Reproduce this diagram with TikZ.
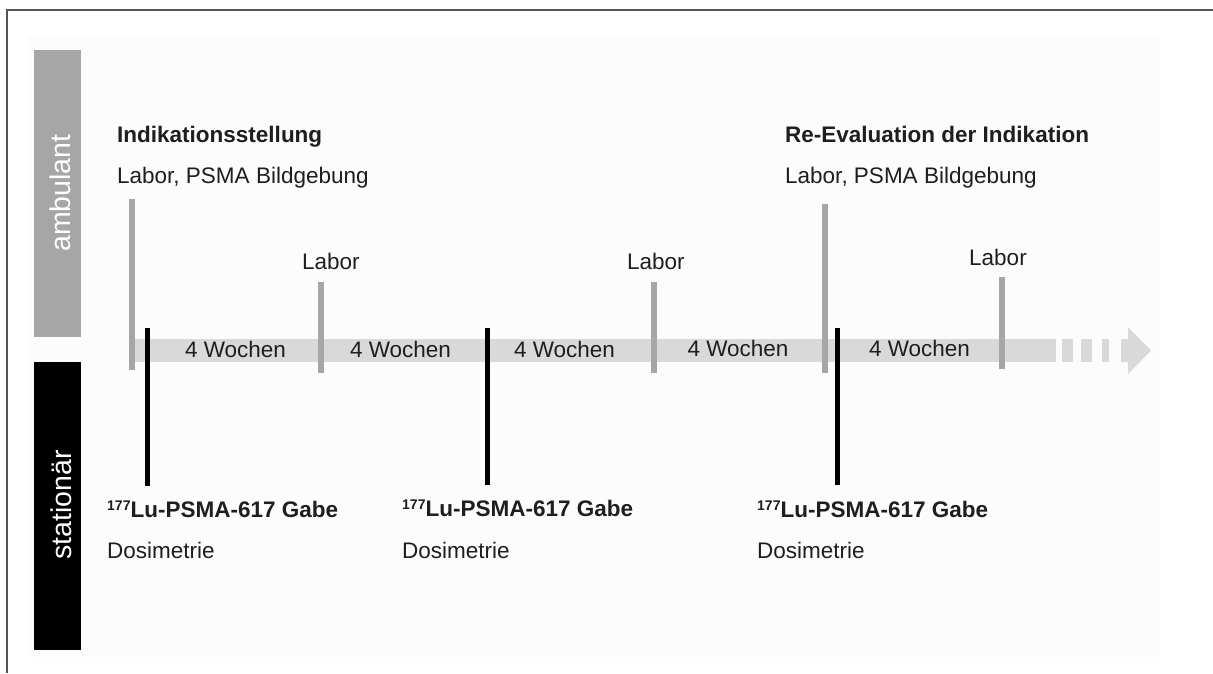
\documentclass[tikz,border=0pt]{standalone}
\usepackage{fontspec}
\setmainfont{Liberation Sans}
\definecolor{ambgray}{HTML}{A6A6A6}
\definecolor{bandgray}{HTML}{D9D9D9}
\definecolor{framegray}{HTML}{555555}
\definecolor{bggray}{HTML}{FCFCFC}
\definecolor{txt}{HTML}{1E1E1E}
\begin{document}
\begin{tikzpicture}[x=1pt,y=-1pt,
  lbl/.style={anchor=base west, inner sep=0pt, text=txt, font=\fontsize{22.5}{27}\selectfont},
  blbl/.style={anchor=base west, inner sep=0pt, text=txt, font=\fontsize{22.5}{27}\selectfont\bfseries},
  wk/.style={anchor=base, inner sep=0pt, text=txt, font=\fontsize{22.5}{27}\selectfont},
  side/.style={rotate=90, inner sep=0pt, text=white, font=\fontsize{28.5}{30}\selectfont},
  graytick/.style={draw=ambgray, line width=6pt},
  blacktick/.style={draw=black, line width=5pt},
  bandfill/.style={fill=bandgray}
]
\useasboundingbox (0,0) rectangle (1213,673);
\fill[white] (0,0) rectangle (1213,673);
\fill[bggray] (27,36) rectangle (1160,657);
\draw[framegray, line width=1.5pt] (7,673) -- (7,10) -- (1213,10);

% side bars
\fill[ambgray] (34,50) rectangle (81,337);
\fill[black] (34,362) rectangle (81,650);
\node[side] (amb) at (60,193) {ambulant};
\node[side] (stat) at (61,505) {stationär};

% time band
\fill[bandfill] (131,339) rectangle (1056,362);
\fill[bandfill] (1062,339) rectangle (1073,362);
\fill[bandfill] (1081,339) rectangle (1092,362);
\fill[bandfill] (1102,339) rectangle (1109,362);
\fill[bandfill] (1121,339) -- (1128,339) -- (1128,327) -- (1151,350.5) -- (1128,374) -- (1128,362) -- (1121,362) -- cycle;

% ticks
\coordinate (g1t) at (131.5,199); \coordinate (g1b) at (131.5,370);
\coordinate (g2t) at (321,282);   \coordinate (g2b) at (321,373);
\coordinate (g3t) at (654,282);   \coordinate (g3b) at (654,373);
\coordinate (g4t) at (825,204);   \coordinate (g4b) at (825,373);
\coordinate (g5t) at (1002,277);  \coordinate (g5b) at (1002,369);
\coordinate (k1t) at (147.5,328); \coordinate (k1b) at (147.5,486);
\coordinate (k2t) at (487,328);   \coordinate (k2b) at (487,485);
\coordinate (k3t) at (837,328);   \coordinate (k3b) at (837,485);
\draw[graytick] (g1t) -- (g1b);
\draw[graytick] (g2t) -- (g2b);
\draw[graytick] (g3t) -- (g3b);
\draw[graytick] (g4t) -- (g4b);
\draw[graytick] (g5t) -- (g5b);
\draw[blacktick] (k1t) -- (k1b);
\draw[blacktick] (k2t) -- (k2b);
\draw[blacktick] (k3t) -- (k3b);

% week labels
\node[wk] (w1) at (235.5,357) {4 Wochen};
\node[wk] (w2) at (400.5,357) {4 Wochen};
\node[wk] (w3) at (564.5,357) {4 Wochen};
\node[wk] (w4) at (738,356) {4 Wochen};
\node[wk] (w5) at (919.5,356) {4 Wochen};

% top labels
\node[blbl] (ind) at (117,142) {Indikationsstellung};
\node[lbl] (ind2) at (117,183) {Labor, PSMA Bildgebung};
\node[blbl] (reev) at (785,142) {Re-Evaluation der Indikation};
\node[lbl] (reev2) at (785,183) {Labor, PSMA Bildgebung};
\node[lbl] (lab1) at (302,269) {Labor};
\node[lbl] (lab2) at (627,269) {Labor};
\node[lbl] (lab3) at (969,265) {Labor};

% bottom labels
\node[blbl] (gabe1) at (107,517) {{\fontsize{14}{14}\selectfont\raisebox{7pt}{177}}Lu-PSMA-617 Gabe};
\node[lbl] (dos1) at (107,558) {Dosimetrie};
\node[blbl] (gabe2) at (402,516) {{\fontsize{14}{14}\selectfont\raisebox{7pt}{177}}Lu-PSMA-617 Gabe};
\node[lbl] (dos2) at (402,558) {Dosimetrie};
\node[blbl] (gabe3) at (757,517) {{\fontsize{14}{14}\selectfont\raisebox{7pt}{177}}Lu-PSMA-617 Gabe};
\node[lbl] (dos3) at (757,558) {Dosimetrie};
\end{tikzpicture}
\end{document}
